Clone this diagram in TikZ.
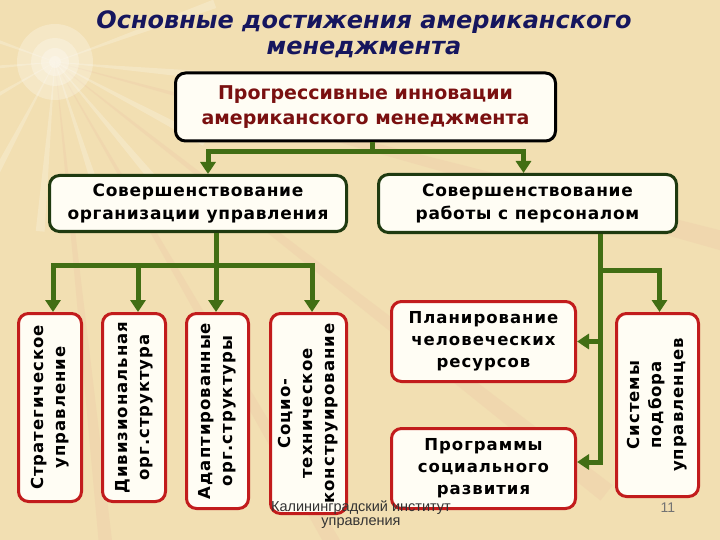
\documentclass[tikz,border=0pt]{standalone}
\usepackage{fontspec}
\usepackage{graphicx}
\setmainfont{DejaVu Sans}
\newfontfamily\footfont{Liberation Sans}
\usetikzlibrary{arrows.meta,positioning}

\definecolor{bgbeige}{HTML}{F2DFB2}
\definecolor{raypink}{HTML}{E9B9A0}
\definecolor{titleblue}{HTML}{16165E}
\definecolor{innovred}{HTML}{7A1010}
\definecolor{boxfill}{HTML}{FFFDF4}
\definecolor{groupgreen}{HTML}{1F3A10}
\definecolor{linkgreen}{HTML}{426E14}
\definecolor{leafred}{HTML}{C21C1C}

\newcommand{\uptext}[1]{\rotatebox{90}{\begin{tabular}{@{}c@{}}#1\end{tabular}}}

\tikzset{
	topbox/.style={draw=black, line width=3pt, rounded corners=10pt, fill=boxfill, text=innovred, align=center, inner sep=0pt, font=\bfseries\fontsize{19}{25}\selectfont},
	groupbox/.style={draw=groupgreen, line width=3pt, rounded corners=10pt, fill=boxfill, align=center, inner sep=0pt, font=\bfseries\fontsize{17}{23}\selectfont\addfontfeatures{LetterSpace=4}},
	leafbox/.style={draw=leafred, line width=3pt, rounded corners=10pt, fill=boxfill, align=center, inner sep=0pt, font=\bfseries\fontsize{16.5}{22}\selectfont\addfontfeatures{LetterSpace=6}},
	link/.style={draw=linkgreen, line width=5pt},
	linkarrow/.style={link, -{Triangle[length=12pt,width=15pt]}}
}

\begin{document}
\begin{tikzpicture}[x=1pt,y=-1pt]
	% background with the light burst in the corner
	\useasboundingbox (0,0) rectangle (720,540);
	\fill[bgbeige] (0,0) rectangle (720,540);
	\foreach \a in {-20,5,28,50,72,95,118,150,175,200}
		\fill[white,opacity=0.22] (55,62) -- +(\a-1.5:170) -- +(\a+1.5:170) -- cycle;
	\foreach \a in {15,38,60,84}
		\fill[raypink,opacity=0.2] (55,62) -- +(\a-0.8:700) -- +(\a+0.8:700) -- cycle;
	\foreach \r in {6,14,24,38}
		\fill[white,opacity=0.25] (55,62) circle (\r);

	\node[text=titleblue, align=center, font=\bfseries\itshape\fontsize{24}{26}\selectfont] (title) at (364,34) {Основные достижения американского\\менеджмента};

	\node[topbox, minimum width=380, minimum height=68] (top) at (365.5,107) {Прогрессивные инновации\\американского менеджмента};

	\node[groupbox, minimum width=297, minimum height=56] (org)  at (198,203.5)   {Совершенствование\\организации управления};
	\node[groupbox, minimum width=298, minimum height=58] (pers) at (527.5,203.5) {Совершенствование\\работы с персоналом};

	\node[leafbox, minimum width=63, minimum height=188] (strat) at (50,407.5)    {\uptext{Стратегическое\\управление}};
	\node[leafbox, minimum width=63, minimum height=188] (div)   at (134,407.5)   {\uptext{Дивизиональная\\орг.структура}};
	\node[leafbox, minimum width=62, minimum height=195] (adapt) at (217.5,411)   {\uptext{Адаптированные\\орг.структуры}};
	\node[leafbox, minimum width=76, minimum height=200] (socio) at (308.5,413.5) {\uptext{Социо-\\техническое\\конструирование}};

	\node[leafbox, minimum width=184, minimum height=80] (plan) at (483.5,341.5) {Планирование\\человеческих\\ресурсов};
	\node[leafbox, minimum width=184, minimum height=80] (prog) at (483.5,468.5) {Программы\\социального\\развития};
	\node[leafbox, minimum width=82, minimum height=183]  (sys)  at (657.5,405)   {\uptext{Системы\\подбора\\управленцев}};

	% connectors
	\coordinate (jt) at (372,152);
	\draw[link] (jt |- top.south) -- (jt);
	\draw[linkarrow] (jt) -| ([xshift=10pt]org.north);
	\draw[linkarrow] (jt) -| ([xshift=-4pt]pers.north);

	\coordinate (jo) at (216,265);
	\draw[link] (jo |- org.south) -- (jo);
	\draw[linkarrow] (jo) -| ([xshift=3pt]strat.north);
	\draw[linkarrow] (jo) -| ([xshift=4pt]div.north);
	\draw[linkarrow] (jo) -- (jo |- adapt.north);
	\draw[linkarrow] (jo) -| ([xshift=3.5pt]socio.north);

	\coordinate (jp) at (600,462);
	\coordinate (js) at (600,270);
	\draw[linkarrow] (jp |- pers.south) -- (jp) -- (prog.east |- jp);
	\draw[linkarrow] (plan.east -| jp) -- (plan.east);
	\draw[linkarrow] (js) -| ([xshift=2pt]sys.north);

	% footer
	\node[font=\footfont\fontsize{14.5}{14}\selectfont, text=black!80, align=center] (inst) at (361,515) {Калининградский институт\\управления};
	\node[font=\footfont\fontsize{14}{14}\selectfont, text=black!55] (page) at (668,508) {11};
\end{tikzpicture}
\end{document}
